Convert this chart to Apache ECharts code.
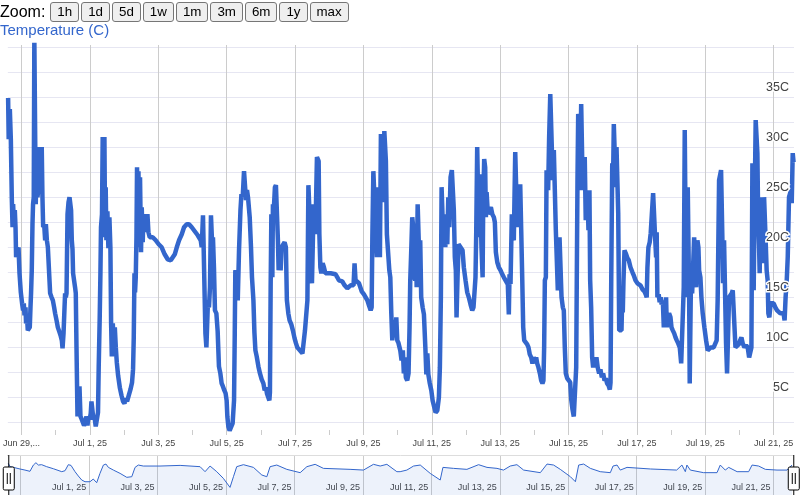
<!DOCTYPE html>
<html><head><meta charset="utf-8">
<script src="https://cdn.jsdelivr.net/npm/echarts@6.0.0/dist/echarts.min.js"></script>
<style>
html,body{margin:0;padding:0;background:#fff;}
#wrap{position:relative;width:801px;height:495px;overflow:hidden;font-family:Arial,"Liberation Sans",sans-serif;}
#chart{position:absolute;left:0;top:0;width:801px;height:495px;}
#zoombar{position:absolute;left:0;top:1px;height:21px;display:flex;align-items:center;z-index:2;}
#zoombar span{font-size:16px;color:#000;margin-right:5px;font-family:Arial,"Liberation Sans",sans-serif;}
#zoombar button{font:13.333px Arial,"Liberation Sans",sans-serif;height:20px;padding:0 6px;margin:0 2px 0 0;border:1px solid #767676;border-radius:3px;background:#efefef;color:#000;}
#ylabel{position:absolute;left:0;top:21px;font-size:15px;line-height:17px;color:#3366cc;z-index:2;font-family:Arial,"Liberation Sans",sans-serif;}
</style></head>
<body>
<div id="wrap">
<div id="chart"></div>
<div id="zoombar"><span>Zoom:</span><button>1h</button><button>1d</button><button>5d</button><button>1w</button><button>1m</button><button>3m</button><button>6m</button><button>1y</button><button>max</button></div>
<div id="ylabel">Temperature (C)</div>
</div>
<script>
// hours since 2025-06-29 00:00
const hours = [
-9.4,-9.0,-8.2,-7.5,-6.8,-6.3,-5.9,-5.2,-4.7,-4.2,
-3.8,-3.3,-2.6,-2.1,-1.4,-0.5,0.4,1.1,1.6,2.1,
2.8,3.2,3.9,4.4,5.3,5.8,6.3,6.7,7.2,7.7,
8.1,8.6,9.0,9.7,10.0,10.5,11.2,11.9,12.8,13.5,
14.2,14.7,15.2,15.9,16.6,17.1,17.8,18.5,19.4,20.1,
21.1,22.0,22.9,23.6,24.6,25.5,26.7,27.6,28.3,28.8,
29.5,30.2,30.6,31.1,31.6,32.3,33.0,33.7,34.4,34.8,
35.3,35.8,36.2,36.9,37.6,38.1,38.6,39.3,39.7,40.2,
40.7,41.4,42.3,43.2,43.9,44.9,45.6,46.3,47.0,47.9,
48.6,49.1,50.0,50.5,51.2,52.1,53.0,53.7,54.2,54.9,
55.4,55.8,56.5,57.0,57.7,58.2,58.7,59.1,59.6,60.3,
61.0,61.7,62.4,62.9,63.4,64.1,64.8,65.5,66.2,66.9,
67.8,69.0,70.2,71.3,72.3,73.2,74.1,75.3,76.5,77.6,
78.3,78.8,79.3,79.7,80.2,80.7,81.1,81.6,82.1,82.8,
83.2,83.9,84.4,85.1,85.6,86.3,87.0,87.7,88.4,89.1,
90.0,92.1,94.2,96.3,98.4,100.5,102.6,104.8,106.2,107.6,
109.0,110.6,112.5,114.1,116.0,117.6,119.5,121.6,123.7,125.8,
126.5,127.4,128.4,129.1,129.8,130.2,130.9,131.6,132.3,133.0,
133.5,134.0,134.4,135.1,135.8,136.8,137.7,138.6,139.6,140.5,
141.4,142.4,143.3,144.0,144.5,145.2,146.1,147.3,148.2,149.2,
149.7,150.1,151.1,151.8,152.7,153.7,154.4,155.3,156.2,157.2,
157.6,158.3,159.0,160.2,161.1,161.8,162.8,163.5,164.2,165.1,
166.3,167.4,168.6,169.8,170.7,171.6,172.3,173.3,174.0,174.4,
174.9,175.4,176.1,176.5,177.2,177.9,178.6,179.6,180.0,180.5,
181.2,181.9,182.6,183.3,184.7,185.6,186.3,187.3,188.2,189.4,
190.5,191.7,192.7,193.6,194.8,196.0,197.2,198.1,199.0,200.0,
200.7,201.4,201.8,202.3,203.0,203.9,204.6,205.1,205.6,206.3,
207.0,207.4,208.1,208.6,209.1,209.8,210.5,211.4,212.3,213.3,
217.0,220.5,221.7,222.8,225.2,226.8,228.7,231.0,233.1,233.8,
234.5,236.9,238.8,240.4,241.6,242.8,243.9,245.1,245.8,246.3,
247.0,248.1,248.8,249.5,250.2,250.9,251.6,252.3,253.5,254.0,
254.7,255.6,255.8,256.5,257.5,258.2,258.9,259.6,260.3,261.0,
261.7,262.4,263.1,263.8,264.5,
265.9,266.8,267.7,268.4,269.1,269.8,270.8,271.7,272.4,272.9,
273.6,274.3,275.0,275.7,276.4,276.9,277.4,278.1,278.8,279.2,
279.9,280.6,281.6,282.5,283.5,284.2,284.9,285.6,286.5,287.7,
288.6,289.8,290.7,291.9,293.0,293.7,294.4,294.9,295.8,296.3,
296.8,297.5,298.2,298.9,299.6,300.3,301.2,302.1,302.8,303.5,
304.2,304.9,305.4,306.1,306.8,308.2,309.6,310.5,311.7,312.9,
314.0,315.2,316.4,317.3,318.0,318.7,319.2,319.9,320.6,321.1,
321.8,322.5,322.9,323.7,324.1,324.8,325.5,326.0,326.5,327.4,
328.6,329.5,330.5,331.6,332.3,333.0,334.0,335.1,336.3,337.5,
338.6,339.8,340.7,341.4,342.1,342.6,343.3,344.2,344.9,345.6,
346.6,347.3,348.0,348.7,349.4,350.1,350.8,351.5,352.2,352.9,
354.0,355.0,355.9,356.8,
357.8,358.7,359.6,360.6,361.3,362.0,362.9,363.9,364.8,365.7,
366.4,366.9,367.4,368.1,368.6,369.3,369.7,370.4,371.2,372.1,
372.6,373.0,373.7,374.4,375.1,375.8,376.5,377.2,377.7,378.6,
379.1,380.0,380.7,381.4,382.1,383.1,384.2,385.2,385.9,386.8,
387.7,388.7,389.4,389.8,390.3,390.8,391.5,391.9,392.4,392.9,
393.6,394.0,394.7,395.4,396.1,396.8,397.3,398.0,398.7,399.2,
399.9,400.6,401.3,402.0,402.9,403.6,404.5,405.5,406.4,407.4,
408.3,409.3,410.2,411.1,412.1,413.0,413.5,414.0,414.7,415.4,
415.8,416.5,417.2,417.7,418.4,418.9,419.6,420.5,421.2,421.7,
422.1,422.6,423.3,424.2,425.4,426.3,427.5,428.9,429.8,431.0,
432.4,434.5,435.9,437.3,438.2,438.9,439.4,440.1,441.0,441.7,
442.7,443.4,444.3,444.8,445.5,445.9,446.4,447.3,448.0,448.7,
449.4,450.2,450.9,451.6,452.0,452.5,453.0,453.7,454.6,455.6,
456.3,457.2,458.2,459.1,460.0,461.0,462.1,463.1,464.5,464.9,
465.6,466.1,466.6,467.0,467.7,468.2,468.7,469.1,469.6,470.1,
470.8,471.5,472.2,472.9,473.6,474.5,475.2,475.7,476.6,477.3,
478.2,479.4,480.6,481.7,482.9,483.8,485.0,485.9,487.1,488.0,
488.7,489.7,490.4,491.1,491.5,492.0,492.5,493.2,493.9,494.6,
495.3,496.0,496.7,497.6,498.6,499.3,500.2,501.2,502.4,503.5,
504.5,505.4,506.3,507.5,508.7,509.8,510.8,511.7,512.4,513.1,
513.6,514.0,514.5,515.4,516.1,516.6,517.1,517.8,518.2,518.9,
519.6,520.1,520.8,521.3,522.0,522.4,523.1,523.8,524.3,525.0,
525.9,527.1,528.0,529.2,530.4,531.5,532.7,533.9,535.0,535.7,
536.4,537.2,537.9,538.8,539.5,540.2,540.7,541.4,542.0
];
const temps = [
34.9,30.8,33.8,30.8,24.8,22.0,24.3,22.0,23.7,22.0,
19.0,20.0,19.0,20.0,17.4,15.5,14.4,13.7,14.4,13.2,
14.0,12.4,13.0,11.7,11.7,12.0,14.0,15.4,17.7,22.3,
24.3,25.0,41.0,41.0,24.3,28.0,25.0,26.0,30.0,25.3,
30.0,25.0,22.0,22.3,20.7,22.3,20.7,20.0,17.4,15.4,
15.0,14.7,14.0,13.4,12.7,12.0,11.5,11.1,10.7,9.9,
11.4,14.0,15.4,15.0,15.4,23.3,24.5,25.0,25.0,23.7,
20.7,19.8,17.4,17.4,16.0,15.4,10.0,3.1,6.1,3.1,
6.1,3.1,2.8,2.8,2.2,2.5,3.1,2.2,3.1,2.8,
3.4,4.6,4.6,2.8,3.1,2.1,2.1,3.5,8.1,13.0,
17.4,22.0,23.3,31.0,24.3,31.0,21.0,26.0,20.7,23.6,
19.9,23.0,20.0,12.4,9.1,12.4,9.5,12.0,10.0,8.5,
7.2,6.0,5.2,4.6,4.4,4.9,4.6,5.2,5.8,6.5,
7.8,11.0,17.4,15.5,17.0,21.0,28.0,21.0,27.6,20.0,
27.0,19.5,24.0,20.5,23.3,21.5,23.3,21.5,23.3,21.5,
21.0,21.0,20.7,20.3,20.0,19.3,18.8,18.7,18.7,19.3,
20.0,20.7,21.3,22.0,22.3,22.3,22.0,21.6,21.2,20.7,
20.0,23.2,23.2,11.4,10.0,10.0,14.7,14.0,16.0,23.2,
23.2,19.7,21.0,18.0,13.7,13.4,11.6,8.1,7.4,6.4,
6.1,5.7,5.4,4.7,3.1,2.1,1.7,1.8,2.4,4.7,
11.4,17.7,17.4,14.7,19.7,23.7,25.3,25.0,27.6,27.6,
24.7,25.7,25.0,23.0,20.0,17.0,14.7,11.5,9.7,9.1,
8.1,7.4,6.8,6.4,5.7,6.0,5.4,5.4,4.7,5.5,
16.0,23.3,17.0,24.3,24.0,26.0,26.2,26.2,20.7,17.7,
20.0,17.7,20.0,20.0,20.5,20.0,14.7,13.4,12.7,12.3,
11.7,10.9,10.4,10.0,9.8,9.6,9.4,9.4,11.7,11.7,
14.7,26.2,26.2,23.0,17.4,16.4,16.4,24.3,24.3,21.3,
21.3,29.0,29.0,28.6,21.3,18.0,17.4,18.4,18.0,17.4,
17.4,17.3,17.0,16.7,16.6,16.2,15.9,16.2,16.2,18.4,
16.7,16.4,15.6,15.3,15.0,14.7,14.2,13.7,14.0,21.0,
27.6,27.6,21.3,19.0,26.0,26.0,19.0,31.3,31.3,24.5,
31.6,31.6,28.6,21.3,21.3,17.7,17.0,13.4,10.7,12.0,
12.7,11.0,13.0,10.7,10.5,
9.7,8.7,9.7,7.4,9.0,7.0,6.7,7.4,12.0,16.7,
19.7,23.0,22.0,17.0,16.7,20.7,16.0,24.3,24.3,19.0,
20.7,15.0,14.0,13.3,10.0,7.3,9.4,7.3,6.5,5.7,
4.7,4.0,3.5,3.7,5.0,8.0,15.0,26.0,26.0,20.0,
23.3,20.0,22.0,20.3,25.0,22.0,27.0,27.7,27.7,23.7,
19.0,17.7,13.0,17.0,20.3,20.3,19.7,18.0,16.7,15.5,
15.0,14.3,13.7,14.0,15.5,17.0,21.3,30.0,30.0,21.0,
27.3,27.3,20.0,17.0,24.0,28.8,28.0,23.0,25.5,23.3,
23.3,24.0,23.3,23.0,22.5,19.5,18.5,18.0,17.7,17.3,
17.0,16.7,16.7,16.3,13.3,17.3,16.3,23.3,21.0,20.7,
29.5,29.5,22.0,26.3,22.0,26.3,21.7,17.0,12.0,10.7,
10.7,10.3,10.0,9.3,
9.0,8.4,9.0,8.7,9.0,8.4,8.0,7.4,6.7,6.4,
6.7,10.0,16.7,17.0,27.7,27.7,25.7,31.0,35.3,35.3,
28.4,26.7,29.7,29.7,21.7,21.7,15.7,15.7,21.0,21.0,
15.0,14.0,13.7,10.0,7.4,6.9,6.8,6.5,4.8,3.8,
3.1,3.1,8.0,16.5,26.7,33.3,33.0,25.7,25.7,34.3,
34.3,25.7,27.3,29.0,22.7,25.0,25.7,21.7,25.7,16.7,
14.0,9.0,8.0,9.0,8.4,9.0,8.0,7.4,7.8,7.0,
7.4,6.7,6.9,6.4,6.2,5.8,6.5,16.7,28.4,28.0,
32.3,32.3,26.0,30.0,30.0,23.4,11.7,11.7,11.7,15.0,
13.5,16.7,19.7,19.4,18.9,18.7,18.0,17.5,17.2,16.7,
16.4,16.2,15.8,15.6,15.3,15.0,18.0,20.0,20.5,21.4,
21.4,25.4,25.4,21.0,19.0,21.5,15.0,15.3,14.5,15.0,
14.3,14.7,12.0,12.0,14.0,15.0,12.0,13.0,13.4,13.0,
12.0,11.7,11.4,11.0,10.7,10.4,10.0,8.4,8.4,16.0,
31.7,31.7,15.0,15.0,26.0,26.0,15.0,6.4,6.4,18.4,
15.4,15.4,21.0,21.0,16.0,20.7,20.0,17.7,17.0,15.0,
13.4,12.0,10.7,9.7,9.7,10.0,10.0,10.0,10.4,10.7,
14.7,26.7,26.7,27.7,27.7,21.0,16.4,20.7,20.7,10.4,
7.4,7.4,15.0,15.0,15.4,15.7,13.0,10.0,10.0,10.3,
10.7,11.0,10.4,10.0,10.2,10.0,9.0,9.0,10.0,28.4,
28.4,15.7,22.4,32.7,32.7,29.4,23.4,20.0,17.4,25.0,
25.0,18.4,18.4,25.0,25.0,20.7,17.7,16.7,13.4,13.0,
14.4,14.4,14.4,14.0,13.7,13.7,13.4,13.4,13.4,12.7,
15.0,16.7,19.0,25.0,25.0,25.7,24.4,29.4,28.5
];
// overview (range selector) trace
const navHours = [-8.7,-7.5,-4.0,-0.5,3.0,6.5,8.9,10.7,12.4,14.7,18.2,22.9,28.8,31.1,33.4,35.3,38.1,40.4,42.8,45.1,48.6,50.9,53.3,55.6,58.0,59.8,61.5,65.0,69.7,74.4,77.9,80.2,82.5,86.0,97.7,111.8,125.8,129.3,132.8,137.5,142.1,146.8,149.2,151.5,156.2,163.2,169.1,172.6,174.9,179.6,186.6,196.0,200.7,206.5,212.3,231.0,240.4,247.4,252.1,256.8,263.8,
266.1,270.8,275.5,280.2,287.2,294.2,296.1,303.5,312.9,321.1,327.0,334.0,338.6,343.3,348.0,352.7,364.4,369.1,373.7,378.4,385.5,389.0,391.3,394.8,399.5,406.4,413.5,415.4,418.2,420.5,425.2,441.7,460.0,463.7,466.1,467.2,469.6,478.9,488.3,490.6,494.1,496.5,502.4,510.5,512.9,517.5,522.2,530.4,537.4,540.9];
const navTemps = [23.0,19.3,18.1,16.7,15.5,14.1,21.1,23.7,21.1,21.5,19.3,17.0,13.7,14.8,21.5,20.7,13.7,8.9,4.4,2.5,2.5,5.5,1.4,11.8,21.1,22.2,18.5,15.5,11.8,7.4,8.1,18.5,21.1,20.0,20.0,20.7,19.3,13.7,20.0,13.7,6.3,-3.8,8.1,19.3,21.5,18.5,10.0,8.1,19.3,21.1,16.3,12.6,19.3,21.9,17.4,16.3,15.5,21.9,20.0,21.9,13.7,
13.7,15.5,20.0,21.1,11.8,4.4,18.5,17.4,16.3,21.5,18.5,17.4,15.5,20.0,21.5,15.5,12.6,22.2,21.1,16.3,8.1,2.5,21.1,22.2,17.4,13.7,12.6,20.0,21.1,15.5,18.5,16.7,15.5,21.1,13.7,21.1,15.5,12.6,12.6,21.1,15.5,18.5,13.7,13.7,21.1,20.0,16.3,15.5,15.5,21.1];

const xTickHours = [0,48,96,144,192,240,288,336,384,432,480,528];
const xTickLabels = ['Jun 29,...','Jul 1, 25','Jul 3, 25','Jul 5, 25','Jul 7, 25','Jul 9, 25','Jul 11, 25','Jul 13, 25','Jul 15, 25','Jul 17, 25','Jul 19, 25','Jul 21, 25'];
const navTickHours = [48,96,144,192,240,288,336,384,432,480,528];
const navTickLabels = ['Jul 1, 25','Jul 3, 25','Jul 5, 25','Jul 7, 25','Jul 9, 25','Jul 11, 25','Jul 13, 25','Jul 15, 25','Jul 17, 25','Jul 19, 25','Jul 21, 25'];
const minorTickHours = [24,72,120,168,216,264,312,360,408,456,504];
const yGridValues = [2.5,5,7.5,10,12.5,15,17.5,20,22.5,25,27.5,30,32.5,35,37.5,40];
const yLabelValues = [5,10,15,20,25,30,35];

const X_MIN = -9.6, X_MAX = 542.3, Y_MIN = 1.25, Y_MAX = 40.2, NAV_MIN = -12.3, NAV_MAX = 32.3;
const FONT = 'Arial, "Liberation Sans", sans-serif';

const mainData = hours.map((h, i) => [h, temps[i]]);
const navData = navHours.map((h, i) => [h, navTemps[i]]);

const gridMarks = [].concat(
  yGridValues.map(v => ({yAxis: v, lineStyle: {color: '#e6e6f2', width: 1, type: 'solid'}})),
  xTickHours.map(v => ({xAxis: v, lineStyle: {color: '#cccccc', width: 1, type: 'solid'}}))
);
const navMarks = [].concat(
  xTickHours.map(v => ({xAxis: v, lineStyle: {color: '#cccccc', width: 1, type: 'solid'}})),
  [{yAxis: NAV_MAX, lineStyle: {color: '#dddddd', width: 1, type: 'solid'}}]
);

const handlePath = 'path://M20,0L20,5M20,28L20,40M16,5L24,5Q25.5,5 25.5,6.5L25.5,26.5Q25.5,28 24,28L16,28Q14.5,28 14.5,26.5L14.5,6.5Q14.5,5 16,5ZM18.5,11L18.5,22M21.5,11L21.5,22';

const chart = echarts.init(document.getElementById('chart'), null, {renderer: 'canvas'});
chart.setOption({
  animation: false,
  backgroundColor: '#ffffff',
  grid: [
    {left: 7, right: 7, top: 45, bottom: 60, containLabel: false},
    {left: 7, right: 7, top: 455, height: 40, containLabel: false}
  ],
  xAxis: [
    {type: 'value', gridIndex: 0, min: X_MIN, max: X_MAX,
     axisLine: {show: false, onZero: false},
     splitLine: {show: false},
     axisTick: {show: true, inside: true, length: 5, customValues: minorTickHours, lineStyle: {color: '#cccccc'}},
     axisLabel: {customValues: xTickHours, formatter: v => xTickLabels[xTickHours.indexOf(v)] || '',
                 margin: 4, fontSize: 9, color: '#444', fontFamily: FONT}},
    {type: 'value', gridIndex: 1, min: X_MIN, max: X_MAX,
     axisLine: {show: false, onZero: false},
     splitLine: {show: false},
     axisTick: {show: false},
     axisLabel: {inside: true, customValues: navTickHours, formatter: v => navTickLabels[navTickHours.indexOf(v)] || '',
                 align: 'right', margin: 3, padding: [0, 3, 0, 0], fontSize: 9, color: '#444', fontFamily: FONT}}
  ],
  yAxis: [
    {type: 'value', gridIndex: 0, min: Y_MIN, max: Y_MAX, position: 'right', z: 5,
     axisLine: {show: false}, axisTick: {show: false}, splitLine: {show: false},
     axisLabel: {inside: true, customValues: yLabelValues, formatter: v => v + 'C', align: 'right',
                 verticalAlign: 'bottom', margin: 5, padding: [0, 0, 3, 0], fontSize: 12.5, color: '#444',
                 fontFamily: FONT, textBorderColor: '#ffffff', textBorderWidth: 3}},
    {type: 'value', gridIndex: 1, min: NAV_MIN, max: NAV_MAX, show: false}
  ],
  dataZoom: [{
    type: 'slider', xAxisIndex: 0, filterMode: 'none', start: 0, end: 100,
    left: 7, right: 7, top: 455, height: 40,
    showDataShadow: false, showDetail: false, brushSelect: false, realtime: false,
    backgroundColor: 'rgba(0,0,0,0)', fillerColor: 'rgba(0,0,0,0)', borderColor: 'rgba(0,0,0,0)',
    dataBackground: {lineStyle: {opacity: 0}, areaStyle: {opacity: 0}},
    selectedDataBackground: {lineStyle: {opacity: 0}, areaStyle: {opacity: 0}},
    moveHandleSize: 0, moveHandleStyle: {opacity: 0},
    handleIcon: handlePath, handleSize: '100%',
    handleStyle: {color: '#ffffff', borderColor: '#000000', borderWidth: 1},
    emphasis: {handleStyle: {color: '#ffffff', borderColor: '#000000', borderWidth: 1}, moveHandleStyle: {opacity: 0}},
    z: 10
  }],
  series: [
    {name: 'Temperature (C)', type: 'line', xAxisIndex: 0, yAxisIndex: 0, data: mainData,
     showSymbol: false, symbol: 'none', silent: true, clip: true,
     lineStyle: {color: '#3366cc', width: 4.5, join: 'bevel'},
     markLine: {z: 1, silent: true, symbol: ['none', 'none'], label: {show: false},
                emphasis: {disabled: true}, data: gridMarks}},
    {name: 'overview', type: 'line', xAxisIndex: 1, yAxisIndex: 1, data: navData,
     showSymbol: false, symbol: 'none', silent: true,
     lineStyle: {color: '#3366cc', width: 1},
     areaStyle: {color: 'rgba(51,102,204,0.12)', origin: 'start'},
     markLine: {z: 1, silent: true, symbol: ['none', 'none'], label: {show: false},
                emphasis: {disabled: true}, data: navMarks}}
  ]
});
if (hours.length !== temps.length || navHours.length !== navTemps.length) {
  console.error('length mismatch', hours.length, temps.length, navHours.length, navTemps.length);
}
</script>
</body></html>
